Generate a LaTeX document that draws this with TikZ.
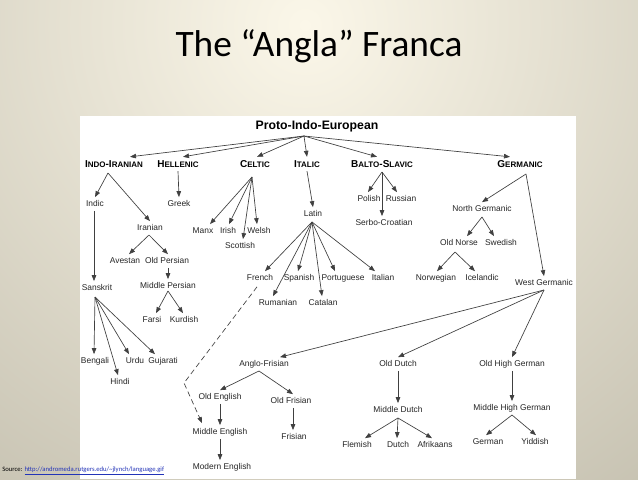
\documentclass[tikz,border=0pt]{standalone}
\usepackage{fontspec}
\setmainfont{Liberation Sans}
\newfontfamily\titlefont{Carlito}
\usetikzlibrary{arrows.meta,calc}
\definecolor{cream}{HTML}{FBF7E9}
\definecolor{bggray}{HTML}{A7A290}
\definecolor{linkblue}{HTML}{2233B8}
\newcommand\scs{\fontsize{6}{7}\selectfont}
\begin{document}
\begin{tikzpicture}[x=0.75pt,y=-0.75pt,
  lang/.style={font=\fontsize{6.3}{7}\selectfont, text=black!85, inner sep=2pt, text height=4.6pt, text depth=1.3pt},
  head/.style={font=\fontsize{7.5}{8}\selectfont\bfseries, inner sep=2.5pt, text height=5.4pt, text depth=0pt},
  arr/.style={draw=black!75, line width=0.5pt, -{Triangle[length=4.5pt,width=3.4pt]}},
  dasharr/.style={arr, dash pattern=on 4pt off 2.5pt}
]
\useasboundingbox (0,0) rectangle (638,479);
\begin{scope}
\clip (0,0) rectangle (638,479);
\shade[inner color=cream, outer color=bggray] (305,25) circle (930);
\end{scope}
\fill[white] (80,116) rectangle (576,479);

\node[font=\titlefont\fontsize{28}{32}\selectfont] (title) at (319,46) {The “Angla” Franca};
\node[anchor=west, font=\titlefont\fontsize{5}{6}\selectfont, inner sep=0pt] (src) at (2,471) {Source: {\color{linkblue}\underline{http://andromeda.rutgers.edu/\textasciitilde jlynch/language.gif}}};

% top
\node[font=\fontsize{9.2}{10}\selectfont\bfseries, inner sep=1pt] (pie) at (317,126) {Proto-Indo-European};
\node[head] (indo) at (114,164) {I{\scs NDO}-I{\scs RANIAN}};
\node[head] (hell) at (178,164) {H{\scs ELLENIC}};
\node[head] (celt) at (255,164) {C{\scs ELTIC}};
\node[head] (ital) at (307,164) {I{\scs TALIC}};
\node[head] (balto) at (382,164) {B{\scs ALTO}-S{\scs LAVIC}};
\node[head] (germ) at (520,164) {G{\scs ERMANIC}};

% languages
\node[lang] (indic) at (95,204) {Indic};
\node[lang] (iranian) at (150,228) {Iranian};
\node[lang] (greek) at (179,204) {Greek};
\node[lang] (manx) at (203,231) {Manx};
\node[lang] (irish) at (228,231) {Irish};
\node[lang] (welsh) at (259,231) {Welsh};
\node[lang] (scottish) at (240,246) {Scottish};
\node[lang] (latin) at (313,214) {Latin};
\node[lang] (polish) at (369,199) {Polish};
\node[lang] (russian) at (401,199) {Russian};
\node[lang] (serbo) at (384,223) {Serbo-Croatian};
\node[lang] (northg) at (482,209) {North Germanic};
\node[lang] (oldnorse) at (459,243) {Old Norse};
\node[lang] (swedish) at (501,243) {Swedish};
\node[lang] (norweg) at (436,278) {Norwegian};
\node[lang] (iceland) at (482,278) {Icelandic};
\node[lang] (westg) at (544,283) {West Germanic};
\node[lang] (avestan) at (125,261) {Avestan};
\node[lang] (oldpersian) at (167,261) {Old Persian};
\node[lang] (midpersian) at (168,286) {Middle Persian};
\node[lang] (farsi) at (152,320) {Farsi};
\node[lang] (kurdish) at (184,320) {Kurdish};
\node[lang] (sanskrit) at (97,288) {Sanskrit};
\node[lang] (bengali) at (95,361) {Bengali};
\node[lang] (hindi) at (120,382) {Hindi};
\node[lang] (urdu) at (135,361) {Urdu};
\node[lang] (gujarati) at (163,361) {Gujarati};
\node[lang] (french) at (260,278) {French};
\node[lang] (spanish) at (299,278) {Spanish};
\node[lang] (portug) at (343,278) {Portuguese};
\node[lang] (italian) at (383,278) {Italian};
\node[lang] (rumanian) at (278,303) {Rumanian};
\node[lang] (catalan) at (323,303) {Catalan};
\node[lang] (anglof) at (264,364) {Anglo-Frisian};
\node[lang] (olddutch) at (398,364) {Old Dutch};
\node[lang] (ohg) at (512,364) {Old High German};
\node[lang] (oldeng) at (220,397) {Old English};
\node[lang] (oldfris) at (291,401) {Old Frisian};
\node[lang] (mideng) at (220,432) {Middle English};
\node[lang] (frisian) at (294,437) {Frisian};
\node[lang] (modeng) at (222,467) {Modern English};
\node[lang] (middutch) at (398,410) {Middle Dutch};
\node[lang] (flemish) at (357,445) {Flemish};
\node[lang] (dutch) at (398,445) {Dutch};
\node[lang] (afrik) at (435,445) {Afrikaans};
\node[lang] (mhg) at (512,408) {Middle High German};
\node[lang] (german) at (488,442) {German};
\node[lang] (yiddish) at (535,442) {Yiddish};

% hubs
\coordinate (pieH) at (304,136);
\coordinate (indoH) at (108,173);
\coordinate (celtH) at (252,177);
\coordinate (baltoH) at (382,172);
\coordinate (germH) at (526,174);
\coordinate (northH) at (482,217);
\coordinate (norseH) at (455,252);
\coordinate (westH) at (544,290);
\coordinate (iranH) at (149,235);
\coordinate (mpH) at (168,291);
\coordinate (sansH) at (95,297);
\coordinate (latinH) at (312,222);
\coordinate (afH) at (259,371);
\coordinate (mdH) at (398,418);
\coordinate (mhgH) at (512,415);
\coordinate (bend) at (184,383);

% PIE
\draw[arr] (pieH) -- ($(indo.north)+(16,0)$);
\draw[arr] (pieH) -- ($(hell.north)+(5,0)$);
\draw[arr] (pieH) -- ($(celt.north)+(2,0)$);
\draw[arr] (pieH) -- (ital.north);
\draw[arr] (pieH) -- ($(balto.north)+(-5,0)$);
\draw[arr] (pieH) -- ($(germ.north)+(-10,0)$);

% Indo-Iranian
\draw[arr] (indoH) -- (indic.north);
\draw[arr] (indoH) -- (iranian.north);
\draw[arr] ($(indic.south)+(-1,0)$) -- ($(sanskrit.north)+(-3,0)$);
\draw[arr] (iranH) -- ($(avestan.north)+(4,0)$);
\draw[arr] (iranH) -- ($(oldpersian.north)+(1,0)$);
\draw[arr] ($(oldpersian.south)+(1,0)$) -- (midpersian.north);
\draw[arr] (mpH) -- ($(farsi.north)+(4,0)$);
\draw[arr] (mpH) -- ($(kurdish.north)+(-1,0)$);
\draw[arr] (sansH) -- ($(bengali.north)+(-1,0)$);
\draw[arr] (sansH) -- ($(hindi.north)+(-2,0)$);
\draw[arr] (sansH) -- ($(urdu.north)+(-6,0)$);
\draw[arr] (sansH) -- ($(gujarati.north)+(-8,0)$);

% Hellenic
\draw[arr] (hell.south) -- (greek.north);

% Celtic
\draw[arr] (celtH) -- ($(manx.north)+(7,0)$);
\draw[arr] (celtH) -- ($(irish.north)+(1,0)$);
\draw[arr] (celtH) -- ($(scottish.north)+(3,0)$);
\draw[arr] (celtH) -- ($(welsh.north)+(-2,0)$);

% Italic
\draw[arr] (ital.south) -- (latin.north);
\draw[arr] (latinH) -- ($(french.north)+(5,0)$);
\draw[arr] (latinH) -- ($(rumanian.north)+(-5,0)$);
\draw[arr] (latinH) -- ($(spanish.north)+(-1,0)$);
\draw[arr] (latinH) -- ($(catalan.north)+(-1,0)$);
\draw[arr] (latinH) -- ($(portug.north)+(-8,0)$);
\draw[arr] (latinH) -- ($(italian.north)+(-8,0)$);

% Balto-Slavic
\draw[arr] (baltoH) -- ($(polish.north)+(-1,0)$);
\draw[arr] (baltoH) -- ($(russian.north)+(-4,0)$);
\draw[arr] (baltoH) -- ($(serbo.north)+(-2,0)$);

% Germanic
\draw[arr] (germH) -- (northg.north);
\draw[arr] (germH) -- (westg.north);
\draw[arr] (northH) -- ($(oldnorse.north)+(8,0)$);
\draw[arr] (northH) -- ($(swedish.north)+(-7,0)$);
\draw[arr] (norseH) -- ($(norweg.north)+(1,0)$);
\draw[arr] (norseH) -- ($(iceland.north)+(-7,0)$);
\draw[arr] (westH) -- ($(anglof.north)+(16,0)$);
\draw[arr] (westH) -- (olddutch.north);
\draw[arr] (westH) -- (ohg.north);
\draw[arr] (afH) -- (oldeng.north);
\draw[arr] (afH) -- ($(oldfris.north)+(2,0)$);
\draw[arr] (oldeng.south) -- (mideng.north);
\draw[arr] ($(oldfris.south)+(2,0)$) -- ($(frisian.north)+(-1,0)$);
\draw[arr] (mideng.south) -- ($(modeng.north)+(-2,0)$);
\draw[arr] (olddutch.south) -- (middutch.north);
\draw[arr] (mdH) -- ($(flemish.north)+(8,0)$);
\draw[arr] (mdH) -- ($(dutch.north)+(-1,0)$);
\draw[arr] (mdH) -- ($(afrik.north)+(-3,0)$);
\draw[arr] (ohg.south) -- (mhg.north);
\draw[arr] (mhgH) -- ($(german.north)+(-2,0)$);
\draw[arr] (mhgH) -- ($(yiddish.north)+(1,0)$);

% dashed French -> Middle English
\draw[dasharr] ($(french.south)+(-3,2)$) -- (bend) -- ($(mideng.north)+(-18,-2)$);
\end{tikzpicture}
\end{document}
